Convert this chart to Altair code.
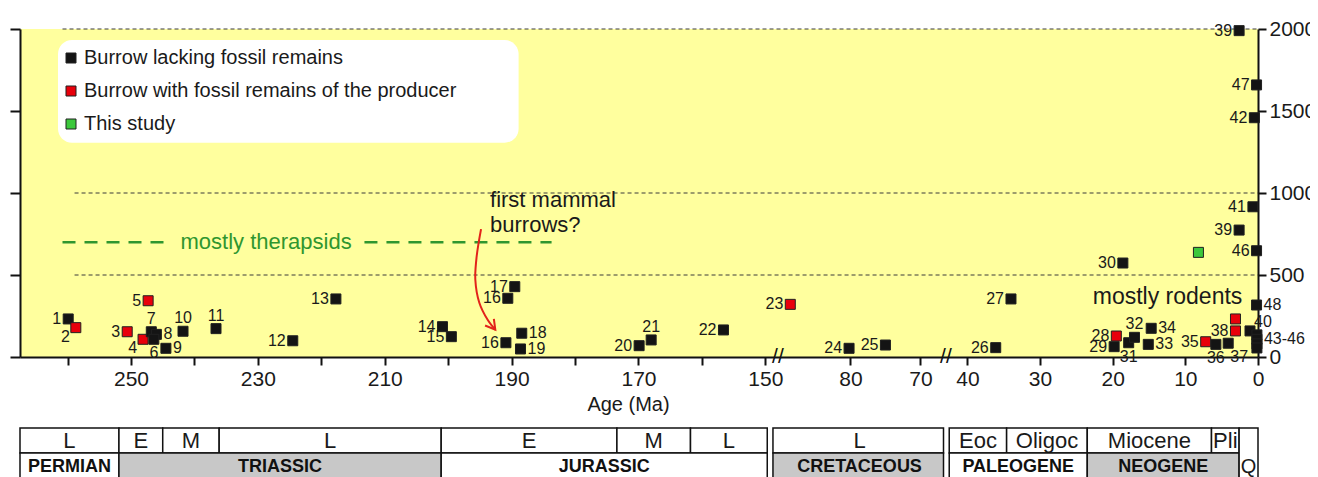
import altair as alt
import pandas as pd

FONT = "Liberation Sans"

# ---------------- data ----------------
pt_label = ["1", "2", "3", "4", "5", "7", "8", "6", "9", "10", "11", "12", "13", "14", "15",
            "16", "17", "16", "18", "19", "20", "21", "22", "23", "24", "25", "26", "27",
            "28", "29", "30", "31", "32", "33", "34", "35", "36", "37", "38", "", "40",
            "", "43-46", "", "", "48", "39", "47", "42", "41", "39", "46", ""]
pt_age = [259.9, 258.7, 250.6, 248.1, 247.3, 246.8, 246.0, 246.4, 244.5, 241.8, 236.6, 224.5, 217.7, 200.9, 199.5,
          190.6, 189.5, 190.9, 188.4, 188.6, 169.9, 168.0, 156.6, 88.6, 80.2, 75.0, 36.1, 34.0,
          19.5, 19.8, 18.6, 17.8, 17.0, 15.1, 14.7, 7.2, 5.8, 4.1, 3.1, 3.1, 1.1,
          0.15, 0.15, 0.15, 0.15, 0.2, 2.6, 0.2, 0.5, 0.7, 2.6, 0.2, 8.2]
pt_depth = [232, 179, 154, 108, 343, 154, 138, 108, 53, 157, 173, 99, 354, 185, 124,
            358, 429, 87, 145, 49, 69, 104, 165, 321, 53, 73, 57, 354,
            128, 63, 573, 87, 120, 77, 175, 93, 77, 84, 159, 232, 159,
            135, 108, 80, 55, 317, 1990, 1659, 1459, 916, 774, 648, 638]
pt_kind = ["b", "r", "r", "r", "r", "b", "b", "b", "b", "b", "b", "b", "b", "b", "b",
           "b", "b", "b", "b", "b", "b", "b", "b", "r", "b", "b", "b", "b",
           "r", "b", "b", "b", "b", "b", "b", "r", "b", "b", "r", "r", "b",
           "b", "b", "b", "b", "b", "b", "b", "b", "b", "b", "b", "g"]
pt_pos = ["L", "BL", "L", "BL", "L", "T", "R", "B", "R", "T", "T", "L", "L", "L", "L",
          "L", "L", "L", "R", "R", "L", "T", "L", "L", "L", "L", "L", "L",
          "L", "L", "L", "B", "T", "R", "R", "L", "B", "BR", "L", "", "TR",
          "", "R", "", "", "R", "L", "L", "L", "L", "L", "L", ""]

kind_names = ["Burrow lacking fossil remains",
              "Burrow with fossil remains of the producer",
              "This study"]
kind_colors = ["#141414", "#E8000B", "#3CC83C"]

ref_depth = [2000, 1000, 500]
ref_from = [260.8, 258.9, 258.9]
ref_to = [0, 0, 0]

ther_from = [260.8, 213.2]
ther_to = [244.0, 183.7]
ther_depth = 700
ther_text_age = 228.7

mammal_lines = ["first mammal", "burrows?"]
mammal_age = 193.4
mammal_depth = [959, 807]

arrow_age = [194.82, 195.51, 195.72, 195.09, 193.78, 192.57]
arrow_depth = [780, 613, 471, 331, 227, 166]
head_age = [194.18, 192.57, 192.8]
head_depth = [192, 166, 233]

rodent_age = 12.45
rodent_depth = 366

break_age = [120, 55]

x_ticks = [260, 250, 240, 230, 220, 210, 200, 190, 180, 170, 160, 150, 80, 70, 40, 30, 20, 10, 0]
x_labeled = [250, 230, 210, 190, 170, 150, 80, 70, 40, 30, 20, 10, 0]
y_ticks = [0, 500, 1000, 1500, 2000]

epoch_names = ["L", "E", "M", "L", "E", "M", "L", "L", "Eoc", "Oligoc", "Miocene", "Pli"]
epoch_start = [267.5, 251.9, 245.0, 236.1, 201.1, 173.4, 161.8, 148.8, 42.5, 34.6, 23.5, 6.4]
epoch_end = [251.9, 245.0, 236.1, 201.1, 173.4, 161.8, 149.7, 66.7, 34.6, 23.5, 6.4, 2.6]
epoch_label_at = [259.7, 248.45, 240.55, 218.6, 187.25, 167.6, 155.75, 78.7, 38.55, 29.05, 14.95, 4.5]

period_names = ["PERMIAN", "TRIASSIC", "JURASSIC", "CRETACEOUS", "PALEOGENE", "NEOGENE"]
period_start = [267.5, 251.9, 201.1, 148.8, 42.5, 23.5]
period_end = [251.9, 201.1, 149.7, 66.7, 23.5, 2.6]
period_label_at = [259.7, 226.5, 175.4, 78.7, 33.0, 13.05]
period_grey = [False, True, False, True, False, True]

q_name = ["Q"]
q_start = [2.6]
q_end = [0.0]
q_label_at = [1.3]

# ---------------- scales ----------------
W, H = 1238, 328
xs = alt.Scale(domain=[267.5, 148.4, 90, 66.7, 42.6, 0],
               range=[0, 755.5, 760.5, 923.5, 928.5, W], nice=False, zero=False)
ys = alt.Scale(domain=[0, 2000], nice=False, zero=True)

label_expr = "indexof([" + ",".join(str(v) for v in x_labeled) + "], datum.value) >= 0 ? datum.label : ''"
xaxis = alt.Axis(values=x_ticks, labelExpr=label_expr, tickSize=8, tickWidth=2, tickColor="#111",
                 domainColor="#111", domainWidth=2, labelFontSize=21, labelFont=FONT,
                 labelColor="#1a1a1a", labelPadding=3, labelFlush=False, labelOverlap=False,
                 grid=False, title="Age (Ma)", titleFont=FONT, titleFontSize=20,
                 titleFontWeight="normal", titleColor="#1a1a1a", titlePadding=5, titleX=608)


def X(field):
    return alt.X(field, type="quantitative", scale=xs, axis=xaxis)


def Y(field):
    return alt.Y(field, type="quantitative", scale=ys, axis=None)


pts = pd.DataFrame({"label": pt_label, "age": pt_age, "depth": pt_depth,
                    "kind": [kind_names["brg".index(k)] for k in pt_kind], "pos": pt_pos})

# legend background box (annotation)
legend_box = alt.Chart(pd.DataFrame({"a": [0]})).mark_rect(
    fill="white", cornerRadius=14).encode(
    x=alt.value(38), x2=alt.value(498.6), y=alt.value(11), y2=alt.value(113.7))

refs = alt.Chart(pd.DataFrame({"d": ref_depth, "a0": ref_from, "a1": ref_to})).mark_rule(
    color="#3a3a3a", strokeDash=[4, 3], strokeWidth=1).encode(
    x=X("a0"), x2="a1",
    y=alt.Y("d", type="quantitative", scale=ys,
            axis=alt.Axis(orient="left", values=y_ticks, labels=False, tickSize=10, tickWidth=2,
                          tickColor="#111", domainColor="#111", domainWidth=2, grid=False, title=None)))

ther = alt.Chart(pd.DataFrame({"a0": ther_from, "a1": ther_to, "d": [ther_depth] * 2})).mark_rule(
    color="#2F962F", strokeDash=[13, 9], strokeWidth=2.5).encode(x=X("a0"), x2="a1", y=Y("d"))

ther_text = alt.Chart(pd.DataFrame({"a": [ther_text_age], "d": [ther_depth], "t": ["mostly therapsids"]})).mark_text(
    font=FONT, fontSize=22, color="#2F962F", baseline="middle").encode(x=X("a"), y=Y("d"), text="t")

mammal = alt.Chart(pd.DataFrame({"a": [mammal_age] * 2, "d": mammal_depth, "t": mammal_lines})).mark_text(
    font=FONT, fontSize=22, color="#1a1a1a", align="left", baseline="middle").encode(x=X("a"), y=Y("d"), text="t")

arrow = alt.Chart(pd.DataFrame({"a": arrow_age, "d": arrow_depth, "o": list(range(len(arrow_age)))})).mark_line(
    color="#E2231A", strokeWidth=2, interpolate="catmull-rom").encode(x=X("a"), y=Y("d"), order="o")

head = alt.Chart(pd.DataFrame({"a": head_age, "d": head_depth, "o": list(range(len(head_age)))})).mark_line(
    color="#E2231A", strokeWidth=2).encode(x=X("a"), y=Y("d"), order="o")

rodents = alt.Chart(pd.DataFrame({"a": [rodent_age], "d": [rodent_depth], "t": ["mostly rodents"]})).mark_text(
    font=FONT, fontSize=23, color="#1a1a1a", baseline="middle").encode(x=X("a"), y=Y("d"), text="t")

points = alt.Chart(pts).mark_square(size=100, opacity=1, stroke="#202020", strokeWidth=1).encode(
    x=X("age"),
    y=alt.Y("depth", type="quantitative", scale=ys,
            axis=alt.Axis(orient="right", values=y_ticks, format="d", tickSize=8, tickWidth=2,
                          tickColor="#111", domainColor="#111", domainWidth=2, labelFontSize=21,
                          labelFont=FONT, labelColor="#1a1a1a", labelPadding=3, grid=False, title=None)),
    color=alt.Color("kind:N", scale=alt.Scale(domain=kind_names, range=kind_colors),
                    legend=alt.Legend(orient="none", legendX=41, legendY=19, title=None,
                                      symbolType="square", symbolSize=100, symbolStrokeWidth=1,
                                      symbolStrokeColor="#202020", symbolOpacity=1,
                                      labelFontSize=20, labelFont=FONT, labelColor="#1a1a1a",
                                      labelOffset=3, rowPadding=13, labelLimit=600, padding=0)))

offsets = {
    "L": dict(align="right", dx=-7, dy=0),
    "R": dict(align="left", dx=7, dy=0),
    "T": dict(align="center", dx=0, dy=-13),
    "B": dict(align="center", dx=0, dy=14),
    "BR": dict(align="center", dx=11, dy=14),
    "BL": dict(align="right", dx=-6, dy=9),
    "TR": dict(align="left", dx=4, dy=-9),
}
label_layers = []
for pos, kw in offsets.items():
    label_layers.append(
        alt.Chart(pts).transform_filter(alt.datum.pos == pos).mark_text(
            font=FONT, fontSize=16, color="#1a1a1a", baseline="middle", **kw).encode(
            x=X("age"), y=Y("depth"), text="label:N"))

breaks = alt.Chart(pd.DataFrame({"a": break_age, "d": [0, 0], "t": ["//", "//"]})).mark_text(
    font=FONT, fontSize=21, color="#111", baseline="middle").encode(x=X("a"), y=Y("d"), text="t")

# geological time table
ep = pd.DataFrame({"n": epoch_names, "s": epoch_start, "e": epoch_end, "m": epoch_label_at})
pe = pd.DataFrame({"n": period_names, "s": period_start, "e": period_end, "m": period_label_at,
                   "f": ["#C8C8C8" if g else "#FFFFFF" for g in period_grey]})
qq = pd.DataFrame({"n": q_name, "s": q_start, "e": q_end, "m": q_label_at})

ep_rect = alt.Chart(ep).mark_rect(fill="white", stroke="#111", strokeWidth=1.5).encode(
    x=X("s"), x2="e", y=alt.value(399), y2=alt.value(424))
ep_text = alt.Chart(ep).mark_text(font=FONT, fontSize=22, color="#1a1a1a", baseline="middle").encode(
    x=X("m"), y=alt.value(412), text="n")
pe_rect = alt.Chart(pe).mark_rect(stroke="#111", strokeWidth=1.5).encode(
    x=X("s"), x2="e", y=alt.value(424), y2=alt.value(452), fill=alt.Fill("f:N", scale=None))
pe_text = alt.Chart(pe).mark_text(font=FONT, fontSize=18, fontWeight="bold", color="#111", baseline="middle").encode(
    x=X("m"), y=alt.value(438), text="n")
q_rect = alt.Chart(qq).mark_rect(fill="white", stroke="#111", strokeWidth=1.5).encode(
    x=X("s"), x2="e", y=alt.value(399), y2=alt.value(452))
q_text = alt.Chart(qq).mark_text(font=FONT, fontSize=20, color="#1a1a1a", baseline="middle").encode(
    x=X("m"), y=alt.value(438), text="n")

chart = alt.layer(
    legend_box, refs, ther, ther_text, mammal, arrow, head, rodents, points,
    *label_layers, breaks, ep_rect, ep_text, pe_rect, pe_text, q_rect, q_text
).resolve_axis(y="independent").properties(
    width=W, height=H,
    autosize=alt.AutoSizeParams(type="none"),
    padding={"left": 12, "top": 21, "right": 52, "bottom": 126},
).configure_view(fill="#FFFF9E", stroke=None)

chart.save("out.html", embed_options={"renderer": "svg", "actions": False})
